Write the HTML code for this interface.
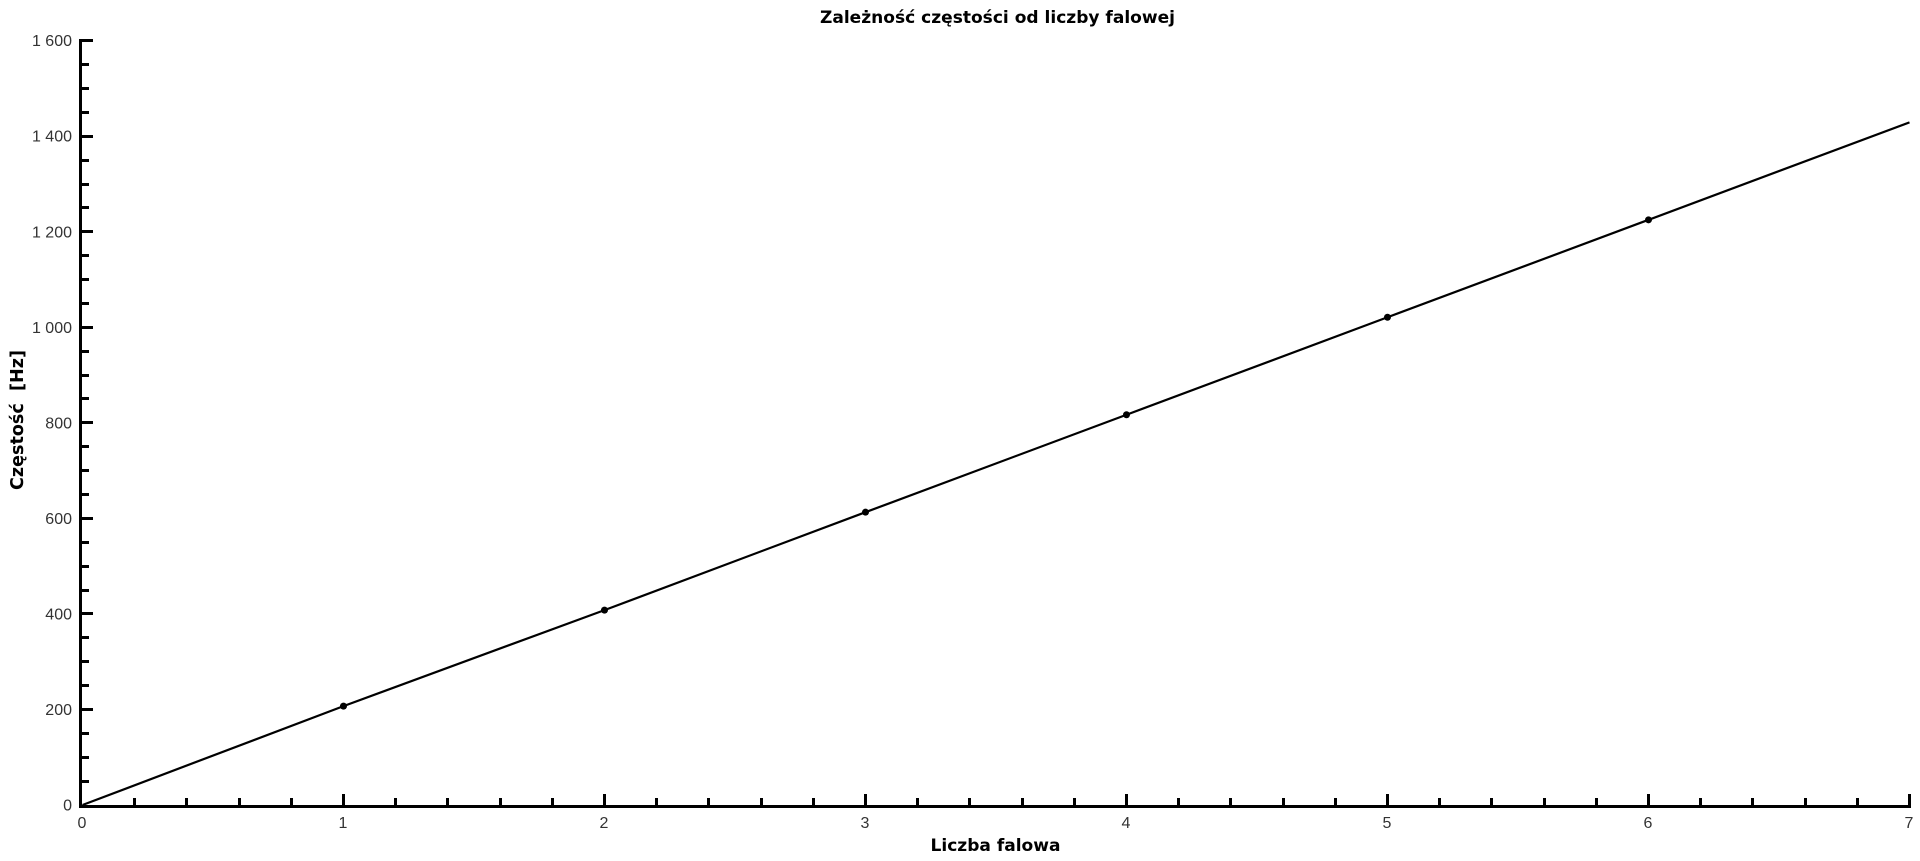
<!DOCTYPE html>
<html lang="pl">
<head>
<meta charset="utf-8">
<title>Zależność częstości od liczby falowej</title>
<style>
  html, body { margin: 0; padding: 0; background: #fff; }
  body { width: 1920px; height: 861px; overflow: hidden; }
  svg { display: block; }
  .tick-label { font-family: "Liberation Sans", sans-serif; font-size: 16px; fill: #333; }
  .chart-title { font-family: "DejaVu Sans", sans-serif; font-size: 17px; font-weight: bold; fill: #000; }
</style>
</head>
<body>
<svg id="chart" xmlns="http://www.w3.org/2000/svg" width="1920" height="861" viewBox="0 0 1920 861">
  <rect x="0" y="0" width="1920" height="861" fill="#ffffff"/>
  <text class="chart-title" x="997.5" y="23" text-anchor="middle" textLength="355" lengthAdjust="spacingAndGlyphs">Zależność częstości od liczby falowej</text>
  <text class="chart-title" x="995.5" y="851" text-anchor="middle" textLength="130" lengthAdjust="spacingAndGlyphs">Liczba falowa</text>
  <text class="chart-title" x="0" y="0" text-anchor="middle" textLength="140" lengthAdjust="spacingAndGlyphs" xml:space="preserve" style="font-size:18px" transform="translate(23 420) rotate(-90)">Częstość  [Hz]</text>
  <g id="axes"></g>
  <g id="series"></g>
</svg>
<script>
const wavenumbers = [0, 1, 2, 3, 4, 5, 6, 7];
const frequencies = [0, 207, 408, 613, 817, 1021, 1225, 1429];
const markerWavenumbers = [1, 2, 3, 4, 5, 6];
const markerFrequencies = [207, 408, 613, 817, 1021, 1225];
const xTickValues = [0, 1, 2, 3, 4, 5, 6, 7];
const xTickLabels = ['0', '1', '2', '3', '4', '5', '6', '7'];
const xMinorTickValues = [0.2, 0.4, 0.6, 0.8, 1.2, 1.4, 1.6, 1.8, 2.2, 2.4, 2.6, 2.8, 3.2, 3.4, 3.6, 3.8, 4.2, 4.4, 4.6, 4.8, 5.2, 5.4, 5.6, 5.8, 6.2, 6.4, 6.6, 6.8];
const yTickValues = [0, 200, 400, 600, 800, 1000, 1200, 1400, 1600];
const yTickLabels = ['0', '200', '400', '600', '800', '1 000', '1 200', '1 400', '1 600'];
const yMinorTickValues = [50, 100, 150, 250, 300, 350, 450, 500, 550, 650, 700, 750, 850, 900, 950, 1050, 1100, 1150, 1250, 1300, 1350, 1450, 1500, 1550];

const NS = 'http://www.w3.org/2000/svg';
const X0 = 82.5, X7 = 1909.5, Y0 = 805, Y1600 = 40.7;
function xScale(v) { return X0 + (v - 0) * (X7 - X0) / 7; }
function yScale(v) { return Y0 - (v - 0) * (Y0 - Y1600) / 1600; }

function make(tag, attrs, parent) {
  const el = document.createElementNS(NS, tag);
  for (const k in attrs) el.setAttribute(k, attrs[k]);
  parent.appendChild(el);
  return el;
}

const axes = document.getElementById('axes');
const series = document.getElementById('series');
const INK = '#000000';

const yAxisLine = make('rect', { x: 79, y: 39, width: 3, height: 769, fill: INK }, axes);



const xAxisLine = make('rect', { x: 79, y: 805, width: 1832, height: 3, fill: INK }, axes);



xTickValues.forEach(function (v, i) {
  if (v !== 0) {
    const tick = make('rect', { x: Math.round(xScale(v) - 1.5), y: 794, width: 3, height: 12, fill: INK }, axes);
    
    
  }
  const label = make('text', { x: xScale(v) - 0.5, y: 828, 'text-anchor': 'middle', class: 'tick-label' }, axes);
  
  
  label.textContent = xTickLabels[i];
});

xMinorTickValues.forEach(function (v) {
  const tick = make('rect', { x: Math.round(xScale(v) - 1.5), y: 798, width: 3, height: 8, fill: INK }, axes);
  
  
});

yTickValues.forEach(function (v, i) {
  if (v !== 0) {
    const tick = make('rect', { x: 81, y: Math.round(yScale(v) - 1.5), width: 12, height: 3, fill: INK }, axes);
    
    
  }
  const label = make('text', { x: 72, y: yScale(v) + 5.5, 'text-anchor': 'end', class: 'tick-label' }, axes);
  
  
  label.textContent = yTickLabels[i];
});

yMinorTickValues.forEach(function (v) {
  const tick = make('rect', { x: 81, y: Math.round(yScale(v) - 1.5), width: 8, height: 3, fill: INK }, axes);
  
  
});

const linePoints = wavenumbers.map(function (k, i) {
  return xScale(k).toFixed(2) + ',' + yScale(frequencies[i]).toFixed(2);
}).join(' ');
const seriesLine = make('polyline', { points: linePoints, fill: 'none', stroke: INK, 'stroke-width': 2.2 }, series);



markerWavenumbers.forEach(function (k, i) {
  const dot = make('circle', { cx: xScale(k), cy: yScale(markerFrequencies[i]), r: 3.5, fill: INK }, series);
  
  
});
</script>
</body>
</html>
